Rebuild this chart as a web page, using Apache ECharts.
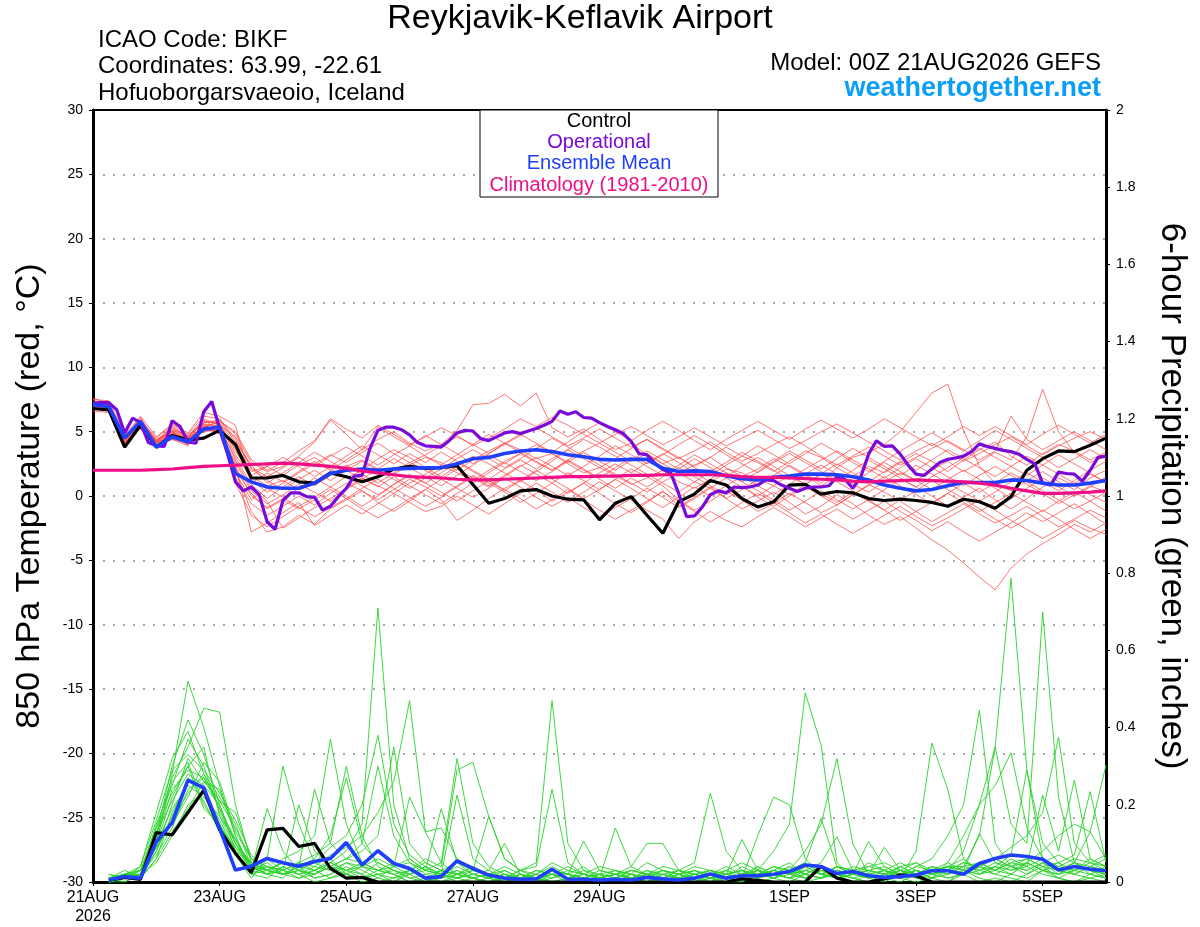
<!DOCTYPE html>
<html>
<head>
<meta charset="utf-8">
<title>Reykjavik-Keflavik Airport - GEFS plume</title>
<script src="https://cdn.jsdelivr.net/npm/echarts@6.0.0/dist/echarts.min.js"></script>
<style>
  html, body { margin: 0; padding: 0; background: #fff; }
  #main { width: 1200px; height: 927px; }
</style>
</head>
<body>
<div id="main"></div>
<script>
// x axis: forecast hours from 00Z 21AUG2026
var tickHours = [0, 48, 96, 144, 192, 264, 312, 360];
var tickLabels = ['21AUG\n2026', '23AUG', '25AUG', '27AUG', '29AUG', '1SEP', '3SEP', '5SEP'];

// 850 hPa temperature (C), every 6 h from hour 0
var controlTemp = [6.8, 6.7, 3.8, 5.5, 3.8, 4.7, 4.35, 4.5, 5.1, 4.0, 1.4, 1.4, 1.6, 1.1, 1.0, 1.8, 1.5, 1.1, 1.5, 2.1, 2.3, 2.15, 2.2, 2.35, 0.9, -0.57, -0.2, 0.4, 0.5, 0, -0.25, -0.3, -1.85, -0.57, -0.05, -1.5, -2.9, -0.45, 0.15, 1.2, 0.85, -0.2, -0.85, -0.45, 0.85, 0.9, 0.15, 0.35, 0.25, -0.2, -0.35, -0.25, -0.35, -0.5, -0.8, -0.25, -0.45, -0.95, -0.05, 2.0, 2.9, 3.5, 3.45, 3.95, 4.5];
var meanTemp = [7.1, 6.95, 4.5, 5.8, 3.8, 4.6, 4.2, 5.2, 5.35, 1.75, 1.1, 0.7, 0.6, 0.6, 1.0, 1.75, 2.0, 2.1, 2.0, 2.1, 2.15, 2.2, 2.2, 2.5, 2.9, 3.0, 3.3, 3.5, 3.6, 3.45, 3.2, 3.05, 2.85, 2.8, 2.85, 2.85, 2.15, 1.9, 1.95, 1.9, 1.55, 1.35, 1.25, 1.45, 1.55, 1.7, 1.7, 1.65, 1.5, 1.25, 0.85, 0.6, 0.4, 0.5, 0.8, 1.05, 1.05, 1.05, 1.25, 1.2, 1.0, 0.85, 0.85, 1.0, 1.2];
var climTemp = [2.0, 2.0, 2.0, 2.0, 2.05, 2.1, 2.2, 2.3, 2.35, 2.4, 2.45, 2.5, 2.55, 2.5, 2.4, 2.3, 2.15, 1.95, 1.8, 1.65, 1.5, 1.45, 1.4, 1.3, 1.25, 1.25, 1.3, 1.35, 1.4, 1.45, 1.5, 1.5, 1.55, 1.55, 1.6, 1.6, 1.65, 1.65, 1.65, 1.65, 1.6, 1.5, 1.45, 1.45, 1.4, 1.35, 1.3, 1.25, 1.15, 1.1, 1.15, 1.2, 1.25, 1.2, 1.15, 1.1, 1.0, 0.85, 0.6, 0.4, 0.2, 0.2, 0.25, 0.3, 0.4];
// operational run, every 3 h from hour 0
var operTemp = [7.2, 7.25, 7.25, 6.7, 4.9, 6.05, 5.7, 4.15, 3.9, 3.85, 5.85, 5.4, 4.2, 4.1, 6.55, 7.35, 5.25, 3.3, 1.1, 0.4, 0.7, 0.1, -2.0, -2.6, -0.35, 0.25, 0.25, -0.05, -0.1, -1.1, -0.8, -0.05, 0.6, 1.55, 1.6, 3.7, 5.1, 5.35, 5.35, 5.15, 4.75, 4.15,
  3.9, 3.85, 3.8, 4.3, 4.9, 5.1, 5.05, 4.45, 4.3, 4.6, 4.9, 5.0, 4.85, 5.05, 5.25, 5.5, 5.8, 6.6, 6.35, 6.55, 6.1, 6.05, 5.7, 5.4, 5.15, 4.85, 4.25, 3.3, 3.2, 2.55, 2.05, 1.8, 0.2, -1.6, -1.55, -0.85, 0.1, 0.4, 0.25, 0.7, 0.65, 0.7,
  0.85, 1.25, 1.2, 0.85, 0.6, 0.35, 0.6, 0.7, 0.7, 0.8, 1.5, 1.3, 0.6, 1.45, 3.25, 4.3, 3.85, 3.9, 3.25, 2.4, 1.7, 1.6, 2.1, 2.6, 2.85, 2.95, 3.1, 3.45, 4.05, 3.85, 3.7, 3.55, 3.45, 3.25, 2.85, 2.5, 1.0, 0.85, 1.85, 1.75, 1.7, 1.15, 2.0, 3.0, 3.1];
// ensemble members, every 6 h from hour 0
var memberTemp = [
  [7.2, 7.0, 4.1, 5.9, 4.2, 5.1, 4.5, 5.8, 5.6, 3.2, 1.5, 0.8, 1.2, 0.5, 0.9, 1.6, 2.3, 2.8, 2.1, 1.7, 2.4, 3.0, 2.6, 2.0, 2.8, 3.5, 4.1, 3.6, 2.9, 3.3, 2.5, 1.8, 2.2, 1.6, 0.9, 1.4, 2.0, 1.1, 0.6, 1.3, 2.1, 1.8, 0.9, 1.6, 2.4, 1.7, 1.0, 2.2, 3.0, 3.4, 4.0, 5.0, 6.5, 8.0, 8.7, 5.1, 2.3, 1.0, 0.4, 1.2, 1.9, 1.1, 0.5, 1.4, 2.0],
  [6.8, 6.7, 4.6, 5.5, 3.9, 4.7, 4.2, 5.3, 5.9, 4.8, 2.6, 1.9, 2.3, 3.1, 4.2, 5.9, 4.8, 3.6, 4.4, 5.0, 4.1, 3.5, 4.0, 5.1, 7.1, 7.2, 7.9, 7.0, 8.0, 5.3, 4.6, 5.2, 4.4, 3.6, 4.1, 3.2, 2.5, 3.0, 2.2, 1.6, 2.4, 3.1, 2.6, 1.9, 2.7, 3.5, 3.0, 2.2, 1.5, 2.3, 1.8, 2.6, 3.3, 2.7, 1.9, 2.8, 3.6, 4.2, 3.1, 2.4, 3.3, 4.0, 3.5, 2.8, 3.4],
  [7.4, 7.1, 4.0, 6.0, 4.3, 5.4, 4.6, 5.9, 5.1, 2.0, -1.2, -2.8, -2.4, -1.5, -2.2, -1.0, -0.3, 0.4, -0.5, -1.2, -0.4, 0.5, -0.3, -1.9, -1.1, -0.2, 0.6, 1.2, 0.5, -0.4, 0.3, 1.0, 0.2, -0.6, -1.3, -0.5, 0.4, -0.8, -0.1, 0.7, -0.2, -1.0, -0.4, 0.3, -0.5, -1.4, -0.8, 0.1, -0.6, -1.5, -2.2, -1.6, -2.5, -3.4, -4.2, -5.2, -6.3, -7.3, -5.6, -4.5, -3.7, -3.0, -2.2, -2.8, -2.1],
  [6.9, 7.2, 4.4, 5.6, 3.7, 4.6, 4.0, 5.1, 5.0, 2.6, 0.4, -0.6, 0.1, 0.9, 0.3, -0.4, 0.5, 1.3, 0.8, 0.2, 1.0, 1.7, 2.4, 1.8, 1.2, 2.0, 2.7, 3.3, 2.6, 2.0, 2.8, 3.5, 4.1, 3.4, 2.7, 3.3, 2.5, 1.8, 2.4, 3.0, 2.2, 1.5, 2.1, 2.9, 2.3, 1.6, 0.8, 1.5, 0.9, 0.3, 1.1, 1.8, 1.2, 2.0, 2.7, 1.9, 2.6, 3.4, 2.8, 4.6, 8.3, 5.0, 3.4, 2.6, 3.1],
  [7.1, 6.6, 3.9, 5.8, 4.1, 4.8, 4.4, 5.4, 5.7, 4.0, 1.9, 2.3, 1.6, 2.4, 3.0, 2.1, 1.4, 2.0, 2.9, 3.6, 3.0, 2.2, 1.5, 2.3, 3.1, 2.5, 1.8, 1.1, 1.9, 2.7, 3.6, 4.4, 3.8, 3.1, 2.4, 1.7, 1.0, 0.3, 1.1, 0.6, -0.2, 0.5, 1.3, 0.8, 0.1, 0.9, 1.7, 1.1, 0.4, -0.3, 0.5, 1.3, 0.7, 0.0, -0.8, -0.1, 0.6, -0.3, -1.0, -0.2, 0.7, 1.4, 0.8, 0.1, -0.5],
  [6.7, 6.8, 4.2, 5.4, 4.2, 5.2, 4.7, 5.6, 4.8, 1.4, -0.6, -1.5, -0.8, 0.0, -0.7, 0.2, 1.0, 0.4, -0.3, 0.5, 1.3, 0.7, 0.0, 0.8, 1.6, 1.0, 0.3, -0.5, 0.2, 1.0, 1.8, 1.2, 0.5, 1.3, 2.1, 1.5, 0.8, -0.3, -1.1, -0.4, 0.4, -0.3, -1.2, -0.6, 0.2, -0.5, -1.3, -0.7, 0.1, 0.9, 0.3, -0.4, -1.2, -2.0, -1.3, -0.6, -1.4, -2.1, -1.5, -0.8, -1.6, -2.4, -1.8, -1.1, -1.7],
  [7.3, 6.9, 4.7, 5.7, 3.8, 4.5, 4.1, 5.2, 5.5, 3.7, 1.2, 0.3, 1.0, 1.8, 2.5, 3.2, 2.6, 3.4, 4.1, 3.3, 2.6, 3.2, 3.9, 4.6, 4.0, 3.3, 4.0, 4.7, 5.3, 4.6, 3.9, 4.5, 5.2, 4.5, 3.8, 4.4, 3.6, 2.9, 3.5, 4.2, 3.4, 2.7, 3.3, 4.0, 4.6, 3.9, 3.1, 2.4, 3.1, 3.8, 3.1, 2.4, 3.0, 3.7, 4.3, 3.6, 2.8, 3.5, 6.2, 4.4, 3.6, 4.3, 5.0, 4.3, 3.6],
  [6.9, 7.0, 4.5, 5.3, 4.4, 5.0, 4.2, 5.0, 5.2, 2.3, 0.0, -0.9, -0.2, 0.6, 1.4, 0.7, 0.0, -0.8, 0.0, 0.9, 1.6, 1.0, 0.3, -0.4, 0.4, 1.2, 0.5, -0.2, -1.0, -0.3, 0.5, -0.3, -1.1, -1.8, -1.1, -0.4, 0.3, -0.4, -1.2, -2.0, -1.3, -0.5, 0.2, -0.5, -1.3, -2.1, -1.4, -2.2, -2.9, -2.2, -1.5, -0.8, -1.6, -2.3, -1.7, -1.0, -0.3, -1.1, -1.9, -2.6, -3.3, -2.6, -1.9, -2.5, -3.0],
  [7.0, 7.3, 4.0, 5.5, 4.0, 4.4, 3.9, 5.7, 5.8, 5.0, 2.8, 2.0, 2.6, 3.5, 4.3, 6.0, 5.2, 4.5, 5.5, 4.8, 4.0, 4.6, 5.3, 4.7, 3.9, 4.5, 5.2, 6.0, 5.4, 6.1, 5.5, 4.8, 4.1, 4.8, 5.4, 4.7, 4.0, 4.6, 5.3, 4.6, 3.9, 4.5, 5.1, 4.4, 3.7, 4.3, 5.0, 5.6, 4.9, 4.2, 3.5, 2.8, 3.5, 4.1, 3.4, 2.7, 3.3, 4.0, 4.6, 3.9, 3.2, 3.9, 4.5, 5.0, 4.4],
  [6.6, 6.5, 4.3, 5.9, 4.5, 5.5, 4.8, 6.2, 6.0, 4.4, 2.1, 1.2, 0.5, 1.3, 2.0, 1.2, 2.0, 2.7, 2.0, 1.3, 0.6, 1.4, 2.1, 2.9, 3.6, 2.9, 2.2, 2.9, 3.7, 4.5, 3.8, 3.1, 2.4, 1.7, 1.0, 0.3, 1.1, 1.8, 1.1, 1.9, 2.6, 3.4, 2.7, 2.0, 1.3, 2.1, 2.8, 3.5, 2.8, 2.1, 1.4, 2.2, 2.9, 2.2, 1.5, 0.8, 1.6, 2.3, 1.6, 0.9, 0.2, -0.6, 0.1, 0.8, 0.3],
  [7.5, 7.4, 4.8, 6.1, 4.1, 4.9, 4.3, 5.3, 4.9, 1.8, -0.3, 0.6, -0.1, -0.9, -1.6, -0.9, -0.2, 0.6, 1.3, 0.6, -0.1, -0.8, -0.1, 0.7, 1.5, 0.8, 1.6, 2.4, 1.7, 1.0, 0.2, 1.0, 1.8, 2.5, 1.8, 2.6, 3.3, 2.6, 1.8, 1.1, 1.8, 1.1, 0.4, -0.3, -1.1, -0.4, 0.4, -0.3, -1.0, -0.3, -1.1, -1.9, -1.2, -0.5, 0.2, 1.0, 0.3, 1.0, 1.8, 1.1, 0.4, -0.3, -1.0, -0.4, 0.3],
  [6.8, 6.9, 4.1, 5.6, 3.9, 4.7, 4.5, 5.4, 5.3, 3.0, 0.9, -0.2, 0.7, 1.5, 0.8, 1.6, 2.4, 1.7, 1.0, 1.8, 2.6, 2.0, 1.3, 2.1, 1.4, 0.7, 1.5, 2.3, 3.0, 2.3, 1.6, 2.3, 3.1, 3.9, 3.2, 2.5, 3.2, 4.0, 4.7, 4.0, 3.2, 2.5, 1.8, 2.6, 3.3, 2.6, 1.9, 1.2, 2.0, 2.8, 2.1, 1.4, 0.7, 1.5, 2.2, 3.0, 3.7, 3.0, 2.3, 1.6, 2.4, 1.7, 1.0, 1.7, 1.1],
  [7.2, 6.7, 4.4, 5.2, 3.8, 4.6, 4.0, 5.2, 5.1, 2.4, -2.8, -2.1, -1.3, -0.5, -2.3, -1.5, -0.7, -1.4, -0.6, 0.2, -0.5, -1.2, -0.8, 0.0, -0.7, -1.4, -0.6, 0.2, 1.0, 0.3, -0.5, 0.3, 1.1, 0.4, -0.3, -1.1, -1.8, -3.3, -2.0, -1.2, -1.9, -2.4, -1.6, -0.9, -1.6, -2.4, -1.7, -1.0, -1.8, -1.1, -0.4, -1.2, -1.9, -2.7, -2.0, -2.8, -3.5, -2.8, -2.1, -1.3, -2.0, -1.3, -0.6, -1.4, -2.2],
  [7.0, 7.1, 4.6, 5.8, 4.3, 5.3, 4.6, 6.0, 5.5, 4.6, 2.2, 1.5, 2.2, 3.0, 2.3, 3.1, 3.8, 3.1, 2.4, 3.2, 3.9, 4.7, 4.0, 3.3, 2.5, 3.3, 4.1, 4.8, 4.1, 3.4, 4.2, 5.0, 5.7, 5.0, 4.3, 5.1, 5.8, 5.1, 4.3, 3.6, 4.4, 5.1, 5.8, 5.1, 4.4, 5.2, 5.9, 5.2, 4.5, 5.2, 6.0, 5.3, 4.6, 3.9, 4.6, 5.4, 4.7, 5.4, 4.7, 4.0, 4.8, 5.5, 4.8, 4.1, 4.8],
  [6.9, 6.6, 4.0, 5.4, 4.0, 4.8, 4.2, 5.5, 5.0, 1.0, -1.5, -2.4, -1.6, -0.8, -0.1, 0.7, 1.5, 0.8, 0.1, 0.9, 1.7, 1.0, 1.8, 2.6, 1.9, 1.2, 0.4, 1.2, 2.0, 1.3, 0.6, -0.2, 0.5, 1.3, 0.6, -0.2, -0.9, -0.1, 0.7, 0.0, 0.8, 1.5, 0.8, 0.1, 0.9, 1.7, 2.4, 1.7, 1.0, 1.8, 2.6, 1.9, 1.2, 0.5, 1.3, 2.0, 1.3, 0.6, -0.2, 0.6, 1.4, 0.7, 0.0, 0.7, 1.5],
  [7.6, 7.2, 4.5, 6.2, 4.6, 5.6, 4.9, 6.5, 6.2, 5.5, 1.0, 1.8, 1.1, 1.9, 2.7, 2.0, 2.8, 3.6, 5.4, 4.6, 3.9, 3.1, 2.4, 3.2, 4.0, 4.8, 4.1, 3.4, 2.7, 2.0, 2.8, 2.1, 1.4, 2.2, 3.0, 2.3, 1.6, 2.4, 3.2, 2.5, 1.8, 1.1, 1.9, 2.7, 3.5, 2.8, 2.1, 2.9, 3.7, 3.0, 2.3, 1.6, 2.4, 1.7, 1.0, 0.3, -0.4, 0.3, 1.1, 1.8, 1.1, 0.4, 1.2, 2.0, 2.7],
  [7.1, 6.8, 4.2, 5.7, 4.2, 5.0, 4.4, 5.6, 5.4, 2.8, 0.6, -0.4, -2.5, -1.7, -0.9, -0.2, 0.6, 1.4, 0.7, 1.5, 0.8, 0.1, -0.6, 0.2, 1.0, 1.8, 2.6, 1.9, 1.2, 1.9, 2.7, 2.0, 1.3, 0.6, 1.4, 0.7, 1.5, 2.2, 1.5, 0.8, 0.1, 0.8, -0.1, -0.8, 0.0, 0.7, 0.0, -0.7, 0.1, 0.8, 1.5, 0.8, 0.1, -0.6, 0.2, -0.5, -1.2, -0.5, 0.2, -0.5, -1.2, -0.4, 0.3, -0.4, -1.2],
  [6.7, 7.0, 4.7, 5.5, 3.8, 4.4, 4.1, 5.1, 5.6, 3.5, 1.6, 2.3, 3.0, 2.3, 1.5, 2.3, 3.1, 3.9, 3.2, 2.5, 3.3, 2.6, 3.4, 2.7, 2.0, 1.3, 2.1, 2.8, 2.1, 2.9, 3.6, 2.9, 2.2, 2.9, 3.7, 4.4, 3.7, 3.0, 2.3, 3.0, 3.8, 3.1, 3.9, 3.2, 2.5, 3.3, 4.1, 3.4, 2.6, 1.9, 2.7, 3.5, 4.2, 4.9, 4.2, 3.5, 4.3, 5.1, 4.4, 3.7, 3.0, 2.2, 2.9, 3.6, 2.9],
  [7.3, 7.1, 3.8, 5.6, 4.1, 4.9, 4.5, 5.3, 5.2, 2.1, 0.2, -1.0, -0.3, -1.0, -0.3, 0.5, -0.2, -1.0, -1.7, -1.0, -0.2, 0.5, 1.3, 0.6, -0.1, 0.6, 1.4, 0.7, -0.1, -0.8, -0.1, -0.9, -1.6, -0.9, -0.2, 0.6, -0.1, -0.9, -0.2, 0.6, 1.4, 0.7, 0.0, 0.8, 1.6, 0.9, 0.2, -0.5, 0.3, -0.4, -1.1, -0.3, 0.4, 1.2, 0.5, -0.2, -1.0, -1.8, -2.5, -1.8, -1.1, -1.8, -2.6, -3.3, -2.6],
  [6.8, 6.8, 4.4, 5.9, 4.3, 5.1, 4.7, 5.7, 5.9, 4.2, 2.4, 1.0, 1.8, 2.6, 3.4, 2.7, 2.0, 1.3, 2.1, 2.9, 2.2, 1.5, 0.8, 1.6, 2.4, 3.2, 2.5, 3.3, 4.0, 3.3, 2.6, 3.4, 2.7, 2.0, 2.8, 3.5, 2.8, 2.1, 2.9, 2.2, 1.5, 2.3, 3.0, 2.3, 1.6, 0.9, 1.7, 2.5, 1.8, 1.1, 1.9, 2.7, 2.0, 2.8, 3.6, 2.9, 2.2, 1.5, 2.3, 3.1, 2.4, 3.2, 2.5, 1.8, 1.0]
];

// 6-hour precipitation (inches), every 6 h from hour 6
var controlPrcp = [0.005, 0.012, 0.007, 0.128, 0.122, 0.18, 0.238, 0.135, 0.074, 0.024, 0.135, 0.139, 0.092, 0.1, 0.035, 0.01, 0.012, 0,
  0, 0, 0, 0, 0, 0, 0, 0, 0, 0, 0, 0, 0, 0, 0, 0, 0, 0, 0, 0, 0, 0,
  0.008, 0.004, 0, 0, 0, 0.041, 0.01, 0, 0, 0.008, 0.018, 0.016,
  0, 0, 0, 0, 0, 0, 0, 0, 0, 0, 0, 0];
var meanPrcp = [0.005, 0.014, 0.01, 0.104, 0.154, 0.264, 0.244, 0.139, 0.031, 0.041, 0.061, 0.05, 0.041, 0.053, 0.061, 0.102, 0.044, 0.081, 0.048, 0.035, 0.01, 0.014, 0.055, 0.035, 0.018, 0.01, 0.007, 0.008, 0.033, 0.007, 0.007, 0.005, 0.007, 0.005, 0.012, 0.008, 0.005, 0.01, 0.021, 0.01, 0.016, 0.016, 0.02, 0.027, 0.044, 0.04, 0.022, 0.027, 0.016, 0.012, 0.014, 0.018, 0.029, 0.029, 0.02, 0.048, 0.061, 0.07, 0.066, 0.059, 0.031, 0.04, 0.033, 0.029];
var memberPrcp = [
  [0, 0.01, 0.02, 0.10, 0.28, 0.52, 0.40, 0.25, 0.12, 0.03, 0.05, 0.02, 0.01, 0.03, 0.06, 0.02, 0, 0.01, 0.04, 0.02, 0, 0.01, 0.03, 0.01, 0, 0, 0.02, 0.01, 0, 0, 0.01, 0, 0, 0.02, 0.01, 0, 0, 0.01, 0.02, 0, 0.01, 0.12, 0.22, 0.20, 0.06, 0.02, 0.01, 0, 0, 0.01, 0.03, 0.01, 0, 0, 0.02, 0.04, 0.02, 0.01, 0, 0.03, 0.05, 0.02, 0.01, 0],
  [0.01, 0.02, 0.03, 0.12, 0.30, 0.42, 0.33, 0.20, 0.08, 0.02, 0.01, 0.04, 0.02, 0, 0.01, 0.03, 0.02, 0, 0.01, 0.03, 0.01, 0, 0.02, 0.01, 0, 0.01, 0, 0, 0.02, 0.01, 0, 0, 0.01, 0, 0, 0.02, 0.01, 0, 0, 0.03, 0.05, 0.03, 0.08, 0.15, 0.49, 0.355, 0.05, 0.01, 0, 0.02, 0.01, 0, 0.01, 0.03, 0.02, 0, 0.01, 0, 0.02, 0.04, 0.01, 0, 0.02, 0.01],
  [0, 0.01, 0.04, 0.18, 0.32, 0.39, 0.28, 0.22, 0.15, 0.04, 0.02, 0.01, 0.05, 0.03, 0.01, 0.02, 0.01, 0.03, 0.02, 0, 0, 0.02, 0.01, 0, 0.01, 0.03, 0.01, 0, 0, 0.01, 0.02, 0.01, 0, 0, 0.01, 0.03, 0.02, 0, 0.01, 0, 0, 0.02, 0.04, 0.03, 0.08, 0.15, 0.32, 0.10, 0.02, 0.01, 0, 0.02, 0.01, 0, 0.03, 0.01, 0, 0.02, 0.05, 0.03, 0.01, 0, 0.01, 0.02],
  [0.01, 0, 0.02, 0.15, 0.25, 0.37, 0.30, 0.18, 0.10, 0.05, 0.03, 0.02, 0.04, 0.01, 0.02, 0.05, 0.03, 0.01, 0, 0.02, 0.04, 0.02, 0, 0.01, 0.02, 0, 0, 0.01, 0.03, 0.02, 0, 0.01, 0.02, 0.01, 0, 0, 0.01, 0.02, 0.01, 0, 0.01, 0.03, 0.02, 0.01, 0.02, 0.04, 0.01, 0.02, 0.05, 0.03, 0.01, 0.08, 0.36, 0.24, 0.06, 0.02, 0.04, 0.02, 0.01, 0.03, 0.02, 0.05, 0.03, 0.01],
  [0, 0.01, 0.01, 0.08, 0.20, 0.32, 0.26, 0.21, 0.14, 0.06, 0.03, 0.05, 0.03, 0.02, 0.04, 0.02, 0.01, 0.02, 0, 0.03, 0.05, 0.03, 0.02, 0.01, 0, 0.01, 0.02, 0, 0.01, 0.02, 0.01, 0, 0.01, 0, 0.02, 0.04, 0.03, 0.05, 0.23, 0.08, 0.03, 0.01, 0.02, 0.01, 0, 0.01, 0.02, 0.01, 0, 0.02, 0.04, 0.02, 0.03, 0.01, 0.02, 0.05, 0.03, 0.06, 0.04, 0.02, 0.01, 0.03, 0.02, 0.04],
  [0.02, 0.01, 0.03, 0.14, 0.27, 0.35, 0.45, 0.44, 0.20, 0.05, 0.02, 0.03, 0.01, 0.02, 0.05, 0.03, 0.01, 0.02, 0.03, 0.01, 0, 0.03, 0.05, 0.02, 0.01, 0, 0.01, 0.02, 0, 0, 0.01, 0.02, 0.01, 0.03, 0.02, 0, 0.01, 0, 0.02, 0.01, 0, 0.02, 0.03, 0.05, 0.02, 0.01, 0.04, 0.02, 0.01, 0.03, 0.02, 0.04, 0.06, 0.12, 0.20, 0.445, 0.10, 0.04, 0.02, 0.05, 0.03, 0.02, 0.04, 0.03],
  [0, 0.02, 0.02, 0.10, 0.22, 0.30, 0.35, 0.17, 0.09, 0.03, 0.04, 0.02, 0.03, 0.01, 0.02, 0.04, 0.02, 0.05, 0.03, 0.01, 0.02, 0, 0.01, 0.03, 0.02, 0.01, 0, 0.01, 0.02, 0, 0, 0.01, 0.02, 0.01, 0, 0.01, 0.03, 0.02, 0, 0.01, 0.02, 0, 0.01, 0.03, 0.05, 0.02, 0.01, 0.03, 0.02, 0.01, 0.03, 0.05, 0.02, 0.04, 0.04, 0.12, 0.35, 0.787, 0.29, 0.06, 0.03, 0.02, 0.04, 0.03],
  [0.01, 0.03, 0.01, 0.06, 0.18, 0.26, 0.24, 0.15, 0.07, 0.01, 0.06, 0.30, 0.15, 0.05, 0.03, 0.02, 0.04, 0.02, 0.01, 0.02, 0.03, 0.05, 0.02, 0.01, 0, 0.02, 0.01, 0.03, 0.02, 0.01, 0.01, 0, 0, 0.02, 0.01, 0.01, 0, 0.02, 0.03, 0.01, 0.02, 0.03, 0.01, 0, 0.02, 0.01, 0.03, 0.02, 0.01, 0, 0.02, 0.03, 0.01, 0.05, 0.12, 0.20, 0.25, 0.335, 0.14, 0.06, 0.03, 0.05, 0.02, 0.01],
  [0, 0.01, 0.03, 0.11, 0.24, 0.29, 0.27, 0.19, 0.11, 0.04, 0.02, 0.06, 0.08, 0.12, 0.37, 0.15, 0.05, 0.03, 0.02, 0, 0.01, 0.03, 0.02, 0.04, 0.01, 0, 0.02, 0.01, 0.03, 0.01, 0, 0.02, 0.01, 0.03, 0.02, 0.01, 0, 0.01, 0.02, 0.03, 0.01, 0.02, 0.04, 0.02, 0.01, 0.03, 0.02, 0, 0.02, 0.03, 0.01, 0.02, 0.04, 0.03, 0.08, 0.20, 0.35, 0.15, 0.10, 0.70, 0.22, 0.05, 0.03, 0.02],
  [0.01, 0.02, 0.02, 0.09, 0.15, 0.22, 0.31, 0.26, 0.13, 0.06, 0.04, 0.03, 0.05, 0.07, 0.10, 0.30, 0.12, 0.04, 0.02, 0.03, 0.01, 0.02, 0.04, 0.02, 0.03, 0.01, 0, 0.02, 0.01, 0.03, 0.02, 0.01, 0, 0.01, 0.03, 0.02, 0.01, 0, 0.01, 0.02, 0.03, 0.01, 0.02, 0.04, 0.02, 0.01, 0.02, 0.03, 0.01, 0.02, 0.03, 0.01, 0.02, 0.04, 0.03, 0.05, 0.06, 0.09, 0.12, 0.18, 0.375, 0.10, 0.05, 0.03],
  [0, 0, 0.02, 0.05, 0.12, 0.20, 0.23, 0.16, 0.08, 0.02, 0.03, 0.02, 0.04, 0.06, 0.12, 0.27, 0.10, 0.05, 0.03, 0.02, 0.04, 0.01, 0.02, 0.03, 0.02, 0.01, 0.03, 0.01, 0, 0.01, 0.02, 0.01, 0.03, 0.02, 0.01, 0, 0.02, 0.01, 0.03, 0.02, 0.01, 0.04, 0.02, 0.01, 0.03, 0.05, 0.117, 0.03, 0.02, 0.01, 0.04, 0.02, 0.03, 0.05, 0.03, 0.02, 0.04, 0.03, 0.05, 0.08, 0.12, 0.15, 0.13, 0.303],
  [0.02, 0.01, 0.02, 0.13, 0.21, 0.28, 0.25, 0.20, 0.10, 0.03, 0.02, 0.04, 0.02, 0.03, 0.05, 0.08, 0.15, 0.71, 0.20, 0.06, 0.03, 0.02, 0.01, 0.02, 0.01, 0.02, 0, 0.01, 0.02, 0.01, 0.03, 0.01, 0.02, 0.01, 0, 0.02, 0.01, 0.03, 0.02, 0.01, 0.02, 0.01, 0.03, 0.02, 0.04, 0.02, 0.01, 0.02, 0.03, 0.02, 0.01, 0.03, 0.02, 0.01, 0.02, 0.04, 0.03, 0.02, 0.05, 0.03, 0.02, 0.04, 0.03, 0.02],
  [0.01, 0.02, 0.04, 0.16, 0.29, 0.33, 0.29, 0.23, 0.16, 0.07, 0.03, 0.02, 0.03, 0.05, 0.09, 0.12, 0.20, 0.38, 0.15, 0.07, 0.04, 0.02, 0.03, 0.01, 0.02, 0.01, 0.03, 0.05, 0.47, 0.10, 0.03, 0.02, 0.01, 0.02, 0.01, 0.03, 0.02, 0.01, 0, 0.02, 0.01, 0.03, 0.02, 0.04, 0.02, 0.01, 0.03, 0.02, 0.105, 0.04, 0.02, 0.03, 0.01, 0.02, 0.04, 0.03, 0.02, 0.04, 0.03, 0.05, 0.02, 0.03, 0.04, 0.02],
  [0, 0.01, 0.02, 0.07, 0.14, 0.24, 0.27, 0.21, 0.18, 0.06, 0.04, 0.03, 0.20, 0.08, 0.04, 0.06, 0.10, 0.30, 0.12, 0.05, 0.02, 0.03, 0.01, 0.02, 0.01, 0.02, 0.01, 0, 0.03, 0.02, 0.04, 0.01, 0.02, 0.01, 0.03, 0.01, 0.02, 0.03, 0.01, 0, 0.02, 0.01, 0.03, 0.02, 0.01, 0.03, 0.02, 0.01, 0.02, 0.09, 0.03, 0.02, 0.04, 0.02, 0.03, 0.02, 0.03, 0.05, 0.04, 0.225, 0.08, 0.264, 0.06, 0.04],
  [0.01, 0.02, 0.03, 0.12, 0.26, 0.31, 0.20, 0.14, 0.09, 0.05, 0.03, 0.05, 0.04, 0.24, 0.10, 0.06, 0.08, 0.12, 0.35, 0.10, 0.05, 0.03, 0.02, 0.04, 0.02, 0.03, 0.01, 0.02, 0.04, 0.02, 0.01, 0.03, 0.02, 0.01, 0.02, 0, 0.02, 0.03, 0.01, 0.02, 0.03, 0.02, 0.01, 0.03, 0.02, 0.04, 0.01, 0.02, 0.03, 0.02, 0.01, 0.02, 0.03, 0.04, 0.06, 0.03, 0.04, 0.07, 0.29, 0.10, 0.05, 0.07, 0.234, 0.05],
  [0, 0.01, 0.02, 0.10, 0.19, 0.25, 0.22, 0.17, 0.11, 0.04, 0.06, 0.03, 0.05, 0.04, 0.07, 0.09, 0.12, 0.18, 0.26, 0.47, 0.13, 0.14, 0.06, 0.03, 0.02, 0.04, 0.02, 0.01, 0.03, 0.02, 0.01, 0.02, 0.03, 0.01, 0.02, 0.02, 0.03, 0.01, 0.02, 0.04, 0.02, 0.03, 0.01, 0.02, 0.03, 0.02, 0.04, 0.03, 0.02, 0.03, 0.05, 0.03, 0.02, 0.03, 0.05, 0.04, 0.06, 0.04, 0.03, 0.05, 0.07, 0.05, 0.13, 0.06],
  [0.01, 0.01, 0.02, 0.08, 0.17, 0.27, 0.21, 0.13, 0.07, 0.03, 0.19, 0.08, 0.03, 0.02, 0.04, 0.06, 0.05, 0.08, 0.04, 0.22, 0.13, 0.05, 0.32, 0.10, 0.04, 0.02, 0.01, 0.03, 0.02, 0.04, 0.02, 0.01, 0.02, 0.03, 0.02, 0.01, 0.03, 0.02, 0.01, 0.03, 0.02, 0.04, 0.02, 0.03, 0.01, 0.03, 0.02, 0.04, 0.03, 0.02, 0.04, 0.05, 0.03, 0.04, 0.02, 0.03, 0.05, 0.03, 0.04, 0.06, 0.04, 0.03, 0.05, 0.07],
  [0, 0.02, 0.01, 0.06, 0.13, 0.19, 0.26, 0.24, 0.12, 0.02, 0.04, 0.03, 0.02, 0.04, 0.03, 0.05, 0.04, 0.03, 0.05, 0.03, 0.06, 0.04, 0.29, 0.31, 0.17, 0.06, 0.03, 0.02, 0.05, 0.03, 0.02, 0.01, 0.14, 0.04, 0.02, 0.03, 0.01, 0.02, 0.03, 0.02, 0.11, 0.03, 0.02, 0.01, 0.04, 0.02, 0.03, 0.02, 0.04, 0.03, 0.02, 0.04, 0.03, 0.02, 0.04, 0.05, 0.03, 0.05, 0.06, 0.04, 0.03, 0.05, 0.04, 0.06],
  [0.01, 0.02, 0.03, 0.14, 0.23, 0.30, 0.19, 0.15, 0.08, 0.05, 0.03, 0.02, 0.04, 0.03, 0.05, 0.03, 0.04, 0.06, 0.04, 0.05, 0.03, 0.02, 0.225, 0.06, 0.03, 0.10, 0.02, 0.01, 0.03, 0.02, 0.106, 0.03, 0.02, 0.04, 0.10, 0.10, 0.03, 0.02, 0.01, 0.02, 0.03, 0.02, 0.04, 0.03, 0.05, 0.165, 0.04, 0.02, 0.03, 0.04, 0.02, 0.03, 0.02, 0.04, 0.03, 0.126, 0.05, 0.04, 0.06, 0.04, 0.05, 0.03, 0.06, 0.04],
  [0, 0.01, 0.02, 0.09, 0.16, 0.23, 0.28, 0.19, 0.10, 0.04, 0.03, 0.05, 0.03, 0.02, 0.04, 0.03, 0.05, 0.03, 0.04, 0.06, 0.03, 0.19, 0.05, 0.03, 0.17, 0.06, 0.03, 0.04, 0.24, 0.05, 0.02, 0.04, 0.03, 0.02, 0.05, 0.03, 0.02, 0.04, 0.03, 0.01, 0.04, 0.02, 0.03, 0.02, 0.03, 0.02, 0.04, 0.03, 0.04, 0.05, 0.03, 0.02, 0.04, 0.03, 0.05, 0.04, 0.06, 0.04, 0.05, 0.03, 0.04, 0.06, 0.05, 0.04]
];

var FONT = '"Liberation Sans", Arial, sans-serif';

function toPoints(values, firstHour, step) {
  return values.map(function (v, i) { return [firstHour + i * step, v]; });
}

function line(name, data, color, width, yAxisIndex, extra) {
  var s = {
    name: name,
    type: 'line',
    yAxisIndex: yAxisIndex,
    data: data,
    symbol: 'none',
    silent: true,
    lineStyle: { color: color, width: width },
    z: 2
  };
  return Object.assign(s, extra || {});
}

var series = [];
memberTemp.forEach(function (m, k) {
  series.push(line('t' + k, toPoints(m, 0, 6), '#ff4040', 0.9, 0, { lineStyle: { color: '#ff4040', width: 0.9, opacity: 0.8 } }));
});
memberPrcp.forEach(function (m, k) {
  series.push(line('p' + k, toPoints(m, 6, 6), '#29d329', 0.9, 1));
});
series.push(line('Control', toPoints(controlTemp, 0, 6), '#000', 3.2, 0, { z: 3 }));
series.push(line('Control precip', toPoints(controlPrcp, 6, 6), '#000', 3.2, 1, { z: 3 }));
series.push(line('Operational', toPoints(operTemp, 0, 3), '#7a0ad8', 3.2, 0, { z: 4 }));
series.push(line('Ensemble Mean', toPoints(meanTemp, 0, 6), '#1f3fff', 3.6, 0, { z: 5 }));
series.push(line('Mean precip', toPoints(meanPrcp, 6, 6), '#1f3fff', 3.6, 1, { z: 5 }));
series.push(line('Climatology', toPoints(climTemp, 0, 6), '#ee0f87', 3.2, 0, { z: 6 }));

function txt(x, y, text, font, fill, align, extra) {
  return Object.assign({
    type: 'text', x: x, y: y, z: 100,
    style: { text: text, font: font, fill: fill || '#000', textAlign: align || 'left', textVerticalAlign: 'middle' }
  }, extra || {});
}

var chart = echarts.init(document.getElementById('main'));
chart.setOption({
  animation: false,
  backgroundColor: '#fff',
  grid: { left: 93, right: 94, top: 110, bottom: 45, show: true, borderColor: '#000', borderWidth: 2, backgroundColor: 'transparent' },
  xAxis: {
    type: 'value', min: 0, max: 384,
    axisLine: { onZero: false, lineStyle: { color: '#000', width: 3 } },
    axisTick: { customValues: tickHours, length: 4, lineStyle: { color: '#000', width: 1 } },
    axisLabel: {
      customValues: tickHours,
      formatter: function (v) { return tickLabels[tickHours.indexOf(v)] || ''; },
      color: '#000', fontFamily: FONT, fontSize: 16, lineHeight: 19, margin: 6
    },
    splitLine: { show: false }
  },
  yAxis: [{
    type: 'value', min: -30, max: 30, interval: 5, position: 'left',
    axisLine: { show: true, onZero: false, lineStyle: { color: '#000', width: 3 } },
    axisTick: { show: true, length: 4, lineStyle: { color: '#000' } },
    axisLabel: { color: '#000', fontFamily: FONT, fontSize: 14, margin: 10 },
    splitLine: { show: true, showMinLine: false, showMaxLine: false, lineStyle: { color: '#a8a8a8', width: 2, type: [2, 8] } }
  }, {
    type: 'value', min: 0, max: 2, interval: 0.2, position: 'right',
    axisLine: { show: true, onZero: false, lineStyle: { color: '#000', width: 3 } },
    axisTick: { show: true, length: 4, lineStyle: { color: '#000' } },
    axisLabel: { color: '#000', fontFamily: FONT, fontSize: 14, margin: 10 },
    splitLine: { show: false }
  }],
  series: series,
  graphic: [
    txt(580, 19, 'Reykjavik-Keflavik Airport', '34px ' + FONT, '#000', 'center'),
    txt(98, 40, 'ICAO Code: BIKF', '24px ' + FONT),
    txt(98, 66, 'Coordinates: 63.99, -22.61', '24px ' + FONT),
    txt(98, 93, 'Hofuoborgarsvaeoio, Iceland', '24px ' + FONT),
    txt(1101, 63, 'Model: 00Z 21AUG2026 GEFS', '24px ' + FONT, '#000', 'right'),
    txt(1101, 89, 'weathertogether.net', 'bold 27px ' + FONT, '#0a9ef7', 'right'),
    {
      type: 'line', z: 98,
      shape: { x1: 93, y1: 110, x2: 1106, y2: 110 },
      style: { stroke: '#000', lineWidth: 2 }
    },
    {
      type: 'rect', z: 99,
      shape: { x: 480, y: 110, width: 238, height: 87 },
      style: { fill: '#fff', stroke: '#000', lineWidth: 1 }
    },
    txt(599, 121, 'Control', '20px ' + FONT, '#000', 'center'),
    txt(599, 142, 'Operational', '20px ' + FONT, '#7a0ad8', 'center'),
    txt(599, 163, 'Ensemble Mean', '20px ' + FONT, '#1f3fff', 'center'),
    txt(599, 185, 'Climatology (1981-2010)', '20px ' + FONT, '#ee0f87', 'center'),
    txt(30, 496, '850 hPa Temperature (red, °C)', '34px ' + FONT, '#000', 'center', { rotation: Math.PI / 2 }),
    txt(1172, 496, '6-hour Precipitation (green, inches)', '35px ' + FONT, '#000', 'center', { rotation: -Math.PI / 2 })
  ]
});
</script>
</body>
</html>
